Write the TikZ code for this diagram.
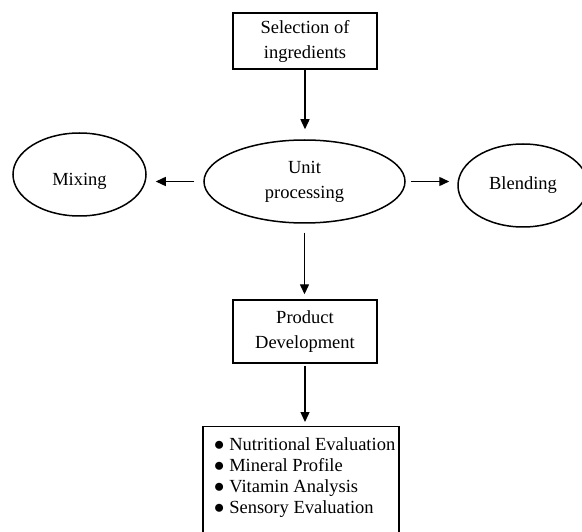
\documentclass[tikz,border=0pt]{standalone}
\usepackage{fontspec}
\setmainfont{Liberation Serif}
\usetikzlibrary{shapes.geometric,arrows.meta,calc}
\begin{document}
\begin{tikzpicture}[x=1pt,y=1pt,
  font=\fontsize{18.5}{25}\selectfont,
  boxnode/.style={draw,line width=1.4pt,rectangle,align=center,minimum width=144pt,inner sep=0pt},
  ellnode/.style={draw,line width=1.5pt,ellipse,align=center,inner sep=0pt},
  listnode/.style={align=left,inner sep=0pt,font=\fontsize{18.5}{21}\selectfont},
  arr/.style={line width=1.4pt,-{Triangle[length=10pt,width=9pt]}}]
\useasboundingbox (0,0) rectangle (582,-532);
\node[boxnode,minimum height=56pt] (sel) at (305,-41) {Selection of\\ingredients};
\node[ellnode,minimum width=201pt,minimum height=83pt] (unit) at (304.5,-181.5) {Unit\\processing};
\node[ellnode,minimum width=133pt,minimum height=83pt] (mix) at (79.5,-174.5) {\vphantom{Mixing}\smash{\raisebox{-7pt}{Mixing}}};
\node[ellnode,minimum width=130pt,minimum height=83pt] (blend) at (523,-185.5) {Blending};
\node[boxnode,minimum height=63pt] (prod) at (305,-331.5) {Product\\Development};
\node[boxnode,minimum width=196pt,minimum height=116pt,anchor=north] (evalbox) at (301,-426) {};
\node[listnode,anchor=west] (eval) at ($(evalbox.north west)+(11,-52)$)
  {● Nutritional Evaluation\\● Mineral Profile\\● Vitamin Analysis\\● Sensory Evaluation};
\draw[arr,shorten >=10pt] (sel.south) -- (sel.south |- unit.north);
\draw[arr,shorten <=9pt,shorten >=9pt] (unit.west) -- (mix.east |- unit.west);
\draw[arr,shorten <=5pt,shorten >=8pt] (unit.east) -- (blend.west |- unit.east);
\draw[arr,shorten <=9pt,shorten >=5pt] (unit.south) -- (unit.south |- prod.north);
\draw[arr,shorten <=2pt,shorten >=4pt] (prod.south) -- (prod.south |- evalbox.north);
\end{tikzpicture}
\end{document}
